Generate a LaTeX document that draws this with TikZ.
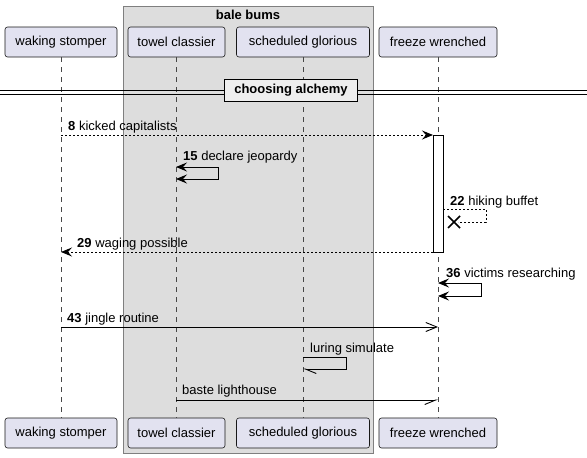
\documentclass[tikz,border=0pt]{standalone}
\usepackage{fontspec}
\setmainfont{Liberation Sans}
\usetikzlibrary{arrows.meta}
\definecolor{partfill}{HTML}{E2E2F0}
\definecolor{partdraw}{HTML}{181818}
\definecolor{grpfill}{HTML}{DDDDDD}
\definecolor{grpdraw}{HTML}{7F7F7F}
\definecolor{divfill}{HTML}{EEEEEE}
\begin{document}
\begin{tikzpicture}[x=1pt,y=-1pt,
  font=\fontsize{13}{15}\selectfont,
  part/.style={draw=partdraw, fill=partfill, rounded corners=2.5pt, minimum height=30pt, inner sep=0pt, line width=0.6pt},
  lifeline/.style={draw=partdraw!80, line width=0.6pt, dash pattern=on 5pt off 5pt},
  msg/.style={line width=0.9pt},
  dotmsg/.style={line width=0.9pt, dash pattern=on 2pt off 2pt},
  fullhead/.style={-{Stealth[length=11pt,width=9pt,inset=4pt]}},
  bothhead/.style={{Stealth[length=11pt,width=9pt,inset=4pt]}-{Stealth[length=11pt,width=9pt,inset=4pt]}},
  openhead/.style={-{Straight Barb[length=11pt,width=9pt,line width=0.9pt]}},
  halfdown/.style={-{Straight Barb[right,length=11pt,width=9pt,line width=0.9pt]}},
  halfdownl/.style={-{Straight Barb[left,length=11pt,width=9pt,line width=0.9pt]}},
  lbl/.style={anchor=base west, inner sep=0pt}
]
\useasboundingbox (0,0) rectangle (587,458);
% group box
\node[draw=grpdraw, fill=grpfill, line width=0.8pt, minimum width=250pt, minimum height=447pt, inner sep=0pt] (grp) at (248,229.5) {};
\node[font=\fontsize{13}{15}\selectfont\bfseries] (grpt) at (248,15) {bale bums};

% participants top
\node[part, minimum width=112pt] (ws) at (61,42) {waking stomper};
\node[part, minimum width=97pt] (tc) at (176.5,42) {towel classier};
\node[part, minimum width=133pt] (sg) at (303,42) {scheduled glorious};
\node[part, minimum width=118pt] (fw) at (438,42) {freeze wrenched};
% participants bottom
\node[part, minimum width=112pt] (wsb) at (61,433) {waking stomper};
\node[part, minimum width=97pt] (tcb) at (176.5,433) {towel classier};
\node[part, minimum width=133pt] (sgb) at (303,433) {scheduled glorious};
\node[part, minimum width=118pt] (fwb) at (438,433) {freeze wrenched};

% lifelines
\draw[lifeline] (61,57) -- (61,418);
\draw[lifeline] (176,57) -- (176,418);
\draw[lifeline] (303,57) -- (303,418);
\draw[lifeline] (438,57) -- (438,418);

% divider
\draw[line width=0.9pt] (0,90) -- (587,90);
\draw[line width=0.9pt] (0,94) -- (587,94);
\node[draw=black, fill=divfill, line width=1.8pt, minimum width=133pt, minimum height=22pt, inner sep=0pt, font=\fontsize{13}{15}\selectfont\bfseries] (div) at (291,90.5) {choosing alchemy};

% activation bar
\node[draw=black, fill=white, line width=0.9pt, minimum width=10pt, minimum height=117pt, inner sep=0pt] (act) at (438,193.5) {};

% 8 kicked capitalists
\coordinate (m1s) at (61,135);
\coordinate (m1e) at (433,135);
\draw[dotmsg, fullhead] (m1s) -- (m1e);
\node[lbl] (l1) at (68,130) {\textbf{8} kicked capitalists};

% 15 declare jeopardy
\coordinate (m2s) at (176,167);
\coordinate (m2e) at (176,179);
\draw[msg, bothhead] (m2s) -- (218,167) -- (218,179) -- (m2e);
\node[lbl] (l2) at (183,160) {\textbf{15} declare jeopardy};

% 22 hiking buffet
\coordinate (m3s) at (443,209);
\coordinate (m3e) at (458,222);
\draw[dotmsg] (m3s) -- (486,209) -- (486,222) -- (m3e);
\draw[line width=1.6pt] (448,216) -- (460,228) (448,228) -- (460,216);
\node[lbl] (l3) at (450,205) {\textbf{22} hiking buffet};

% 29 waging possible
\coordinate (m4s) at (433,252);
\coordinate (m4e) at (61,252);
\draw[dotmsg, fullhead] (m4s) -- (m4e);
\node[lbl] (l4) at (77,247) {\textbf{29} waging possible};

% 36 victims researching
\coordinate (m5s) at (438,283);
\coordinate (m5e) at (438,296);
\draw[msg, bothhead] (m5s) -- (481,283) -- (481,296) -- (m5e);
\node[lbl] (l5) at (446,277) {\textbf{36} victims researching};

% 43 jingle routine
\coordinate (m6s) at (61,327);
\coordinate (m6e) at (438,327);
\draw[msg, openhead] (m6s) -- (m6e);
\node[lbl] (l6) at (67,322) {\textbf{43} jingle routine};

% luring simulate
\coordinate (m7s) at (303,357);
\coordinate (m7e) at (303,369);
\draw[msg, halfdownl] (m7s) -- (346,357) -- (346,369) -- (m7e);
\node[lbl] (l7) at (310,352) {luring simulate};

% baste lighthouse
\coordinate (m8s) at (176,400);
\coordinate (m8e) at (438,400);
\draw[msg, halfdown] (m8s) -- (m8e);
\node[lbl] (l8) at (182,394) {baste lighthouse};
\end{tikzpicture}
\end{document}
